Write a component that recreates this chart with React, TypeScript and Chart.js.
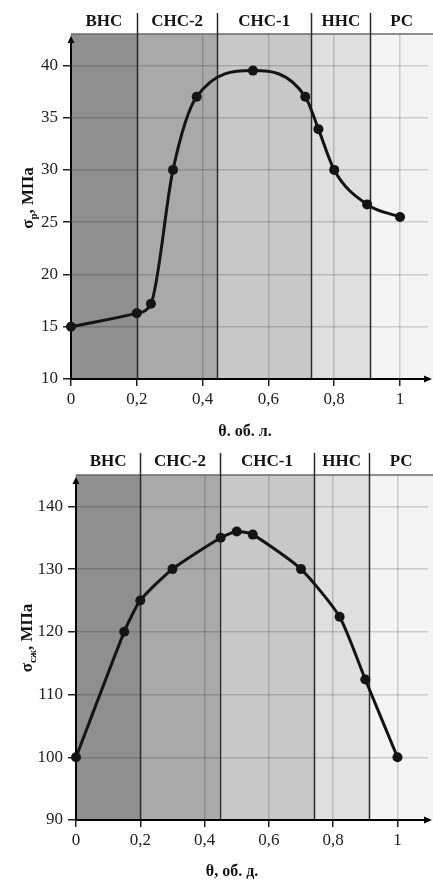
import React, { useEffect, useRef } from "react";
import { Chart, registerables } from "chart.js";
Chart.register(...registerables);

const ZONE_NAMES = ["ВНС", "СНС-2", "СНС-1", "ННС", "РС"];
const ZONE_COLORS = ["#8f8f91", "#a9a9ab", "#c8c8ca", "#dfdfe1", "#f4f4f4"];
const X_TICKS = [0, 0.2, 0.4, 0.6, 0.8, 1];

// Tensile strength chart (top)
const TENSILE_ZONE_STARTS = [0, 0.2, 0.445, 0.73, 0.91];
const TENSILE_X = [0, 0.2, 0.243, 0.31, 0.382, 0.553, 0.712, 0.752, 0.8, 0.9, 1];
const TENSILE_Y = [15, 16.3, 17.2, 30, 37, 39.5, 37, 33.9, 30, 26.7, 25.5];
const TENSILE_Y_TICKS = [10, 15, 20, 25, 30, 35, 40];

// Compressive strength chart (bottom)
const COMP_ZONE_STARTS = [0, 0.2, 0.447, 0.741, 0.912];
const COMP_X = [0, 0.15, 0.2, 0.3, 0.45, 0.5, 0.55, 0.7, 0.82, 0.9, 1];
const COMP_Y = [100, 120, 125, 130, 135, 136, 135.5, 130, 122.4, 112.4, 100];
const COMP_Y_TICKS = [90, 100, 110, 120, 130, 140];

const SERIF = '"Liberation Serif", "Times New Roman", serif';
const INK = "#141414";

const zonesPlugin = {
  id: "zones",
  beforeDraw(chart: any, _a: any, opts: any) {
    const { ctx, chartArea: ca, scales } = chart;
    const x = scales.x;
    const starts: number[] = opts.starts;
    ctx.save();
    for (let i = 0; i < starts.length; i++) {
      const x0 = x.getPixelForValue(starts[i]);
      const x1 = i + 1 < starts.length ? x.getPixelForValue(starts[i + 1]) : chart.width;
      ctx.fillStyle = ZONE_COLORS[i];
      ctx.fillRect(x0, ca.top, x1 - x0, ca.bottom - ca.top);
    }
    ctx.restore();
  },
  beforeDatasetsDraw(chart: any, _a: any, opts: any) {
    const { ctx, chartArea: ca, scales } = chart;
    const x = scales.x;
    const starts: number[] = opts.starts;
    ctx.save();
    ctx.strokeStyle = "#6a6a6a";
    ctx.lineWidth = 1.5;
    ctx.beginPath();
    ctx.moveTo(ca.left, ca.top);
    ctx.lineTo(chart.width, ca.top);
    ctx.stroke();
    ctx.strokeStyle = "#2b2b2b";
    ctx.lineWidth = 1.5;
    for (let i = 1; i < starts.length; i++) {
      const px = Math.round(x.getPixelForValue(starts[i])) + 0.5;
      ctx.beginPath();
      ctx.moveTo(px, opts.sepTop);
      ctx.lineTo(px, ca.bottom);
      ctx.stroke();
    }
    ctx.strokeStyle = "#000";
    ctx.fillStyle = "#000";
    ctx.lineWidth = 2;
    ctx.beginPath();
    ctx.moveTo(ca.left, ca.bottom);
    ctx.lineTo(ca.left, ca.top + 6);
    ctx.stroke();
    ctx.beginPath();
    ctx.moveTo(ca.left, ca.top + 2);
    ctx.lineTo(ca.left - 3.5, ca.top + 9);
    ctx.lineTo(ca.left + 3.5, ca.top + 9);
    ctx.closePath();
    ctx.fill();
    const xr = chart.width - 1;
    ctx.beginPath();
    ctx.moveTo(ca.left, ca.bottom);
    ctx.lineTo(xr - 5, ca.bottom);
    ctx.stroke();
    ctx.beginPath();
    ctx.moveTo(xr, ca.bottom);
    ctx.lineTo(xr - 8, ca.bottom - 3.5);
    ctx.lineTo(xr - 8, ca.bottom + 3.5);
    ctx.closePath();
    ctx.fill();
    ctx.restore();
  },
  afterDraw(chart: any, _a: any, opts: any) {
    const { ctx, scales } = chart;
    const x = scales.x;
    const starts: number[] = opts.starts;
    ctx.save();
    ctx.fillStyle = INK;
    ctx.font = `bold 17px ${SERIF}`;
    ctx.textAlign = "center";
    ctx.textBaseline = "middle";
    for (let i = 0; i < starts.length; i++) {
      const x0 = x.getPixelForValue(starts[i]);
      const x1 = i + 1 < starts.length ? x.getPixelForValue(starts[i + 1]) : chart.width;
      ctx.fillText(ZONE_NAMES[i], (x0 + x1) / 2, opts.headerY);
    }
    ctx.font = `bold 16px ${SERIF}`;
    ctx.fillText(opts.xTitle, opts.xTitleX, opts.xTitleY);
    const main = "σ";
    const sub = opts.ySub;
    const rest = ", МПа";
    const fMain = `bold 17px ${SERIF}`;
    const fSub = `bold 11px ${SERIF}`;
    ctx.font = fMain;
    const wMain = ctx.measureText(main).width;
    const wRest = ctx.measureText(rest).width;
    ctx.font = fSub;
    const wSub = ctx.measureText(sub).width;
    const total = wMain + wSub + wRest;
    ctx.translate(opts.yTitleX, opts.yTitleY);
    ctx.rotate(-Math.PI / 2);
    ctx.textAlign = "left";
    ctx.textBaseline = "alphabetic";
    let cx = -total / 2;
    ctx.font = fMain;
    ctx.fillText(main, cx, 0);
    cx += wMain;
    ctx.font = fSub;
    ctx.fillText(sub, cx, 4);
    cx += wSub;
    ctx.font = fMain;
    ctx.fillText(rest, cx, 0);
    ctx.restore();
  },
};

type Cfg = {
  xs: number[];
  ys: number[];
  yTicks: number[];
  yMin: number;
  yMax: number;
  xMax: number;
  starts: number[];
  leftW: number;
  axisH: number;
  padTop: number;
  ySub: string;
  xTitle: string;
  xTitleX: number;
  yTitleX: number;
  yTitleY: number;
  monotone: boolean;
  tension: number;
};

function makeChart(canvas: HTMLCanvasElement, c: Cfg) {
  return new Chart(canvas, {
    type: "line",
    data: {
      datasets: [
        {
          data: c.xs.map((x, i) => ({ x, y: c.ys[i] })),
          borderColor: INK,
          backgroundColor: INK,
          borderWidth: 3,
          pointRadius: 5,
          pointBackgroundColor: INK,
          pointBorderWidth: 0,
          cubicInterpolationMode: c.monotone ? "monotone" : "default",
          tension: c.tension,
          clip: false,
        } as any,
      ],
    },
    options: {
      animation: false,
      responsive: false,
      maintainAspectRatio: false,
      layout: { padding: { top: c.padTop, right: 3, left: 0, bottom: 0 } },
      plugins: {
        legend: { display: false },
        tooltip: { enabled: false },
        zones: {
          starts: c.starts,
          sepTop: 13,
          headerY: 22,
          xTitle: c.xTitle,
          xTitleX: c.xTitleX,
          xTitleY: 432,
          ySub: c.ySub,
          yTitleX: c.yTitleX,
          yTitleY: c.yTitleY,
        },
      } as any,
      scales: {
        x: {
          type: "linear",
          min: 0,
          max: c.xMax,
          afterBuildTicks: (s: any) => {
            s.ticks = X_TICKS.map((v) => ({ value: v }));
          },
          afterFit: (s: any) => {
            s.height = c.axisH;
          },
          ticks: {
            callback: (v: any) => String(v).replace(".", ","),
            font: { family: SERIF, size: 17 },
            color: "#222",
            padding: 3,
            maxRotation: 0,
            autoSkip: false,
          },
          grid: {
            color: "rgba(0,0,0,0.17)",
            lineWidth: 1.5,
            tickColor: "#222",
            tickLength: 7,
            tickWidth: 1.5,
          },
          border: { display: false },
        },
        y: {
          type: "linear",
          min: c.yMin,
          max: c.yMax,
          afterBuildTicks: (s: any) => {
            s.ticks = c.yTicks.map((v) => ({ value: v }));
          },
          afterFit: (s: any) => {
            s.width = c.leftW;
          },
          ticks: {
            font: { family: SERIF, size: 17 },
            color: "#222",
            padding: 5,
            autoSkip: false,
          },
          grid: {
            color: "rgba(0,0,0,0.17)",
            lineWidth: 1.5,
            tickColor: "#222",
            tickLength: 8,
            tickWidth: 1.5,
          },
          border: { display: false },
        },
      },
    },
    plugins: [zonesPlugin as any],
  });
}

function Panel(props: { cfg: Cfg; top: number; height: number }) {
  const ref = useRef<HTMLCanvasElement | null>(null);
  useEffect(() => {
    if (!ref.current) return;
    const ch = makeChart(ref.current, props.cfg);
    return () => ch.destroy();
  }, []);
  return (
    <canvas
      ref={ref}
      width={433}
      height={props.height}
      style={{ position: "absolute", left: 0, top: props.top, width: 433, height: props.height }}
    />
  );
}

const TOP_CFG: Cfg = {
  xs: TENSILE_X,
  ys: TENSILE_Y,
  yTicks: TENSILE_Y_TICKS,
  yMin: 10,
  yMax: 43,
  xMax: 1.085,
  starts: TENSILE_ZONE_STARTS,
  leftW: 71,
  axisH: 61,
  padTop: 34,
  ySub: "р",
  xTitle: "θ. об. л.",
  xTitleX: 245,
  yTitleX: 33,
  yTitleY: 198,
  monotone: true,
  tension: 0.4,
};

const BOTTOM_CFG: Cfg = {
  xs: COMP_X,
  ys: COMP_Y,
  yTicks: COMP_Y_TICKS,
  yMin: 90,
  yMax: 145,
  xMax: 1.095,
  starts: COMP_ZONE_STARTS,
  leftW: 76,
  axisH: 62,
  padTop: 35,
  ySub: "сж",
  xTitle: "θ, об. д.",
  xTitleX: 232,
  yTitleX: 32,
  yTitleY: 198,
  monotone: false,
  tension: 0.2,
};

export default function App() {
  return (
    <div style={{ position: "absolute", left: 0, top: 0, width: 433, height: 882, background: "#fff" }}>
      <Panel cfg={TOP_CFG} top={0} height={440} />
      <Panel cfg={BOTTOM_CFG} top={440} height={442} />
    </div>
  );
}
